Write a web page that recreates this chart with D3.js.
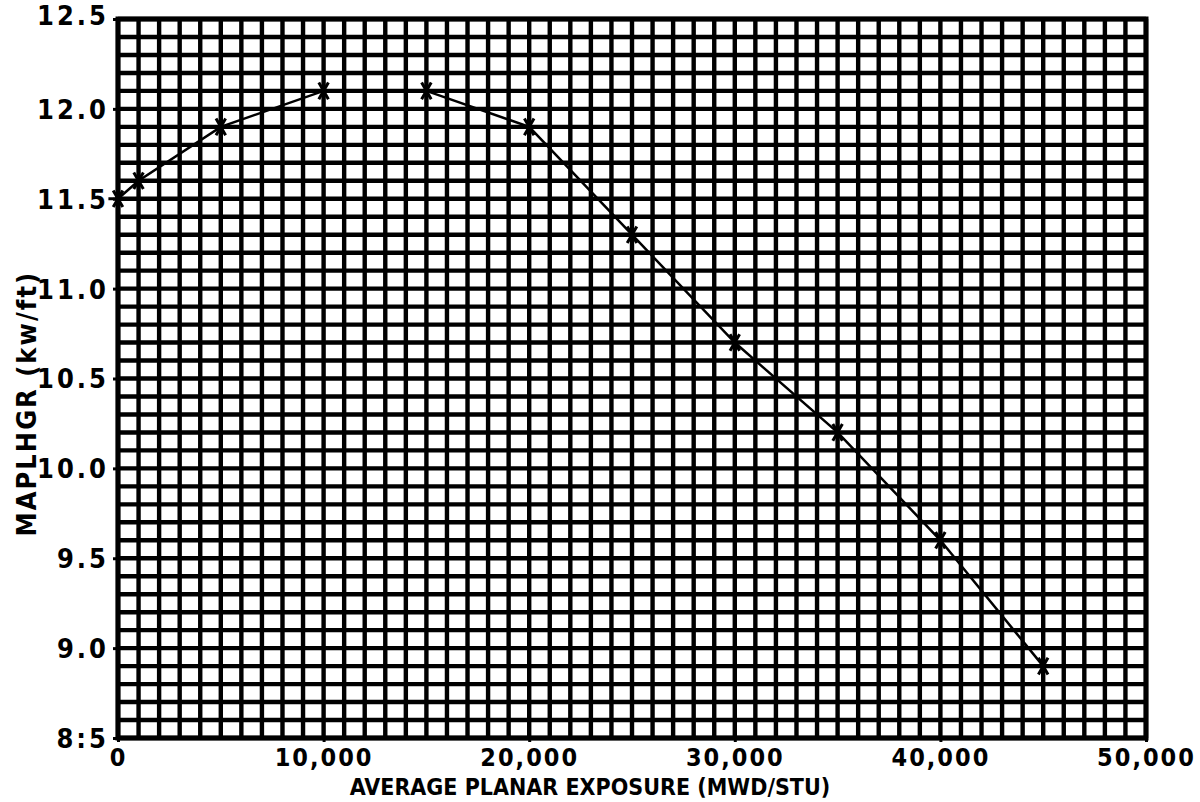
<!DOCTYPE html>
<html>
<head>
<meta charset="utf-8">
<script src="https://cdn.jsdelivr.net/npm/d3@7"></script>
<style>
  html, body { margin: 0; padding: 0; background: #fff; }
  svg { display: block; }
  text { font-family: "DejaVu Sans Condensed", "Liberation Sans Narrow", "DejaVu Sans", sans-serif; font-weight: bold; fill: #000; }
</style>
</head>
<body>
<svg id="chart" width="1200" height="802"></svg>
<script>
// ---- data ----
const exposure = [0, 1000, 5000, 10000, 15000, 20000, 25000, 30000, 35000, 40000, 45000];
const maplhgr  = [11.5, 11.6, 11.9, 12.1, 12.1, 11.9, 11.3, 10.7, 10.2, 9.6, 8.9];
const xTicks = [0, 10000, 20000, 30000, 40000, 50000];
const xTickLabels = ["0", "10,000", "20,000", "30,000", "40,000", "50,000"];
const yTicks = [8.5, 9.0, 9.5, 10.0, 10.5, 11.0, 11.5, 12.0, 12.5];
const yTickLabels = ["8:5", "9.0", "9.5", "10.0", "10.5", "11.0", "11.5", "12.0", "12.5"];
const xTitle = "AVERAGE PLANAR EXPOSURE (MWD/STU)";
const yTitle = "MAPLHGR (kw/ft)";

const svg = d3.select("#chart");
const mLeft = 118, mRight = 1146, mTop = 19, mBottom = 738;

const x = d3.scaleLinear().domain([0, 50000]).range([mLeft, mRight]);
const y = d3.scaleLinear().domain([8.5, 12.5]).range([mBottom, mTop]);

// grid
const g = svg.append("g");
g.selectAll("line.v").data(d3.range(0, 50001, 1000)).join("line")
  .attr("class", "v")
  .attr("x1", d => x(d)).attr("x2", d => x(d))
  .attr("y1", mTop).attr("y2", mBottom)
  .attr("stroke", "#000").attr("stroke-width", 4.4);
g.selectAll("line.h").data(d3.range(0, 41).map(i => 8.5 + i * 0.1)).join("line")
  .attr("class", "h")
  .attr("x1", mLeft).attr("x2", mRight)
  .attr("y1", d => y(d)).attr("y2", d => y(d))
  .attr("stroke", "#000").attr("stroke-width", 4.4);
g.append("rect").attr("x", mLeft).attr("y", mTop)
  .attr("width", mRight - mLeft).attr("height", mBottom - mTop)
  .attr("fill", "none").attr("stroke", "#000").attr("stroke-width", 5);

// axes (ticks + labels)
const yAxis = d3.axisLeft(y).tickValues(yTicks).tickSize(5)
  .tickFormat((d, i) => yTickLabels[i]);
const ya = svg.append("g").attr("transform", `translate(${mLeft},0)`).call(yAxis);
ya.select(".domain").remove();
ya.selectAll(".tick line").attr("stroke", "#000").attr("stroke-width", 3);
ya.selectAll(".tick text").attr("x", -9).attr("dy", "0.35em")
  .style("font-size", "27px").style("letter-spacing", "3px");
ya.selectAll(".tick").filter(d => d === 12.5).select("text").attr("dy", "0.2em");

const xAxis = d3.axisBottom(x).tickValues(xTicks).tickSize(4)
  .tickFormat((d, i) => xTickLabels[i]);
const xa = svg.append("g").attr("transform", `translate(0,${mBottom})`).call(xAxis);
xa.select(".domain").remove();
xa.selectAll(".tick line").attr("stroke", "#000").attr("stroke-width", 3);
xa.selectAll(".tick text").attr("y", 10).attr("dy", "0.71em")
  .style("font-size", "25px").style("letter-spacing", "2px");

// titles
svg.append("text").attr("x", 590).attr("y", 795)
  .attr("text-anchor", "middle").style("font-size", "23px")
  .text(xTitle);
svg.append("text")
  .attr("transform", `translate(36,${y(10.36)}) rotate(-90)`)
  .attr("text-anchor", "middle").style("font-size", "27px").style("letter-spacing", "2px")
  .text(yTitle);

// data line
const line = d3.line().x((d, i) => x(exposure[i])).y(d => y(d));
svg.append("path").datum(maplhgr).attr("d", line)
  .attr("fill", "none").attr("stroke", "#000").attr("stroke-width", 2.5);

const sym = d3.symbol().type(d3.symbolAsterisk).size(260);
svg.selectAll("path.mk").data(maplhgr).join("path")
  .attr("class", "mk")
  .attr("transform", (d, i) => `translate(${x(exposure[i])},${y(d)}) rotate(90)`)
  .attr("d", sym)
  .attr("fill", "none").attr("stroke", "#000").attr("stroke-width", 3);
</script>
</body>
</html>
